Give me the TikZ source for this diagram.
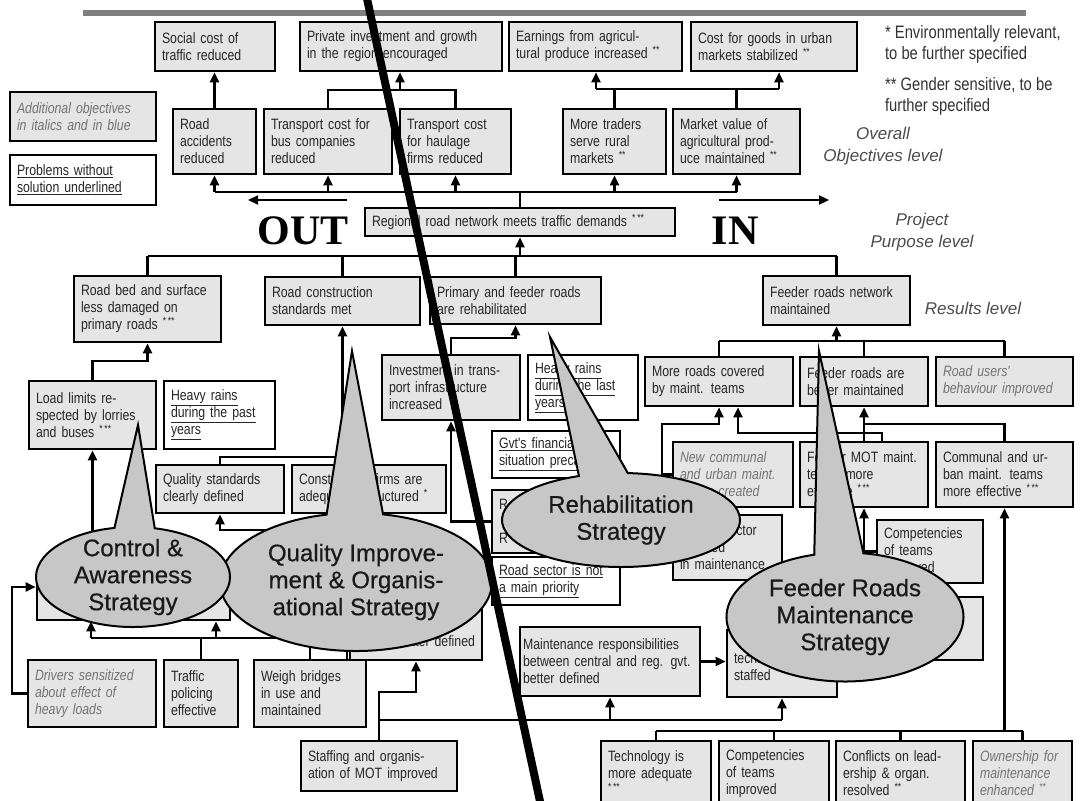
\documentclass[tikz,border=0pt]{standalone}
\usepackage{fontspec}
\setmainfont{Liberation Sans}
\newfontfamily\bxfamily[FakeStretch=0.82]{Liberation Sans}
\newfontfamily\stfamily[FakeBold=0.6]{Liberation Sans}
\newfontfamily\outfamily{Liberation Serif}
\usetikzlibrary{arrows.meta,shapes.callouts}
\newcommand\bxfont{\bxfamily\fontsize{15}{17}\selectfont}
\newcommand\stfont{\stfamily\fontsize{24}{27}\selectfont}
\newcommand\lvfont{\itshape\fontsize{17}{22}\selectfont}
\newcommand\sups[1]{\textsuperscript{#1}}
\tikzset{
  box/.style 2 args={draw, line width=2.6pt, fill=black!10, text=black!85, font=\bxfont,
    align=left, inner xsep=7pt, inner ysep=3pt, text width=#1, minimum height=#2},
  objbox/.style 2 args={box={#1}{#2}, text=black!55, font=\bxfont\itshape},
  probbox/.style 2 args={box={#1}{#2}, fill=white},
  arr/.style={-{Triangle[width=9pt,length=10pt]}},
  strat/.style={ellipse callout, draw, line width=2pt, fill=black!22, text=black!90,
    font=\stfont, align=center, inner sep=-4pt, callout pointer arc=24},
  level/.style={font=\lvfont, align=center, text=black!70},
  key/.style={font=\bxfamily\fontsize{18}{21}\selectfont, align=left, anchor=north west,
    text=black!80, inner sep=0pt},
}
\begin{document}
\begin{tikzpicture}[x=1pt, y=-1pt, line width=2.2pt]
  \useasboundingbox (0,0) rectangle (1083,800);
  \fill[white] (0,0) rectangle (1083,800);
  \fill[black!50] (83,10) rectangle (1026,16);

  \node[box={106pt}{49pt}] (soc) at (215,46.5) {Social cost of\\traffic reduced};
  \node[box={188pt}{49pt}] (priv) at (401,46.5) {Private investment and growth\\in the region encouraged};
  \node[box={159pt}{49pt}] (earn) at (595.5,46.5) {Earnings from agricul-\\tural produce increased \sups{**}};
  \node[box={152pt}{49pt}] (cost) at (774,46.5) {Cost for goods in urban\\markets stabilized \sups{**}};
  \node[box={69pt}{65pt}] (acc) at (214.5,141.5) {Road\\accidents\\reduced};
  \node[box={114pt}{65pt}] (bus) at (328,141.5) {Transport cost for\\bus companies\\reduced};
  \node[box={97pt}{65pt}] (haul) at (455.5,141.5) {Transport cost\\for haulage\\firms reduced};
  \node[box={89pt}{65pt}] (trad) at (614.5,141.5) {More traders\\serve rural\\markets \sups{**}};
  \node[box={113pt}{65pt}] (mval) at (736.5,141.5) {Market value of\\agricultural prod-\\uce maintained \sups{**}};
  \node[objbox={132pt}{49pt}] (addl) at (83,116.5) {Additional objectives\\in italics and in blue};
  \node[probbox={132pt}{50pt}] (prob) at (83,180) {\underline{Problems without}\\\underline{solution underlined}};
  \node[box={296pt}{28pt}] (reg) at (520,222) {Regional road network meets traffic demands \sups{*\,**}};
  \node[box={133pt}{66pt}] (bed) at (147.5,309) {Road bed and surface\\less damaged on\\primary roads \sups{*\,**}};
  \node[box={141pt}{48pt}] (cons) at (342.5,301) {Road construction\\standards met};
  \node[box={157pt}{47pt}] (prim) at (515.5,300.5) {Primary and feeder roads\\are rehabilitated};
  \node[box={133pt}{49pt}] (fnet) at (836.5,300.5) {Feeder roads network\\maintained};
  \node[box={113pt}{68pt}] (load) at (92.5,415) {Load limits re-\\spected by lorries\\and buses \sups{*\,**}};
  \node[probbox={97pt}{68pt}] (rain1) at (219.5,415) {\underline{Heavy rains}\\\underline{during the past}\\\underline{years}};
  \node[box={124pt}{65pt}] (inv) at (451,387.5) {Investment in trans-\\port infrastructure\\increased};
  \node[probbox={96pt}{65pt}] (rain2) at (583,387.5) {\underline{Heavy rains}\\\underline{during the last}\\\underline{years}};
  \node[box={134pt}{49pt}] (more) at (719,381.5) {More roads covered\\by maint. teams};
  \node[box={114pt}{49pt}] (feed) at (864,381.5) {Feeder roads are\\better maintained};
  \node[objbox={123pt}{49pt}] (roadu) at (1004.5,381.5) {Road users'\\behaviour improved};
  \node[probbox={114pt}{47pt}] (gvt) at (556,454.5) {\underline{Gvt's financial}\\\underline{situation precarious}};
  \node[objbox={106pt}{65pt}] (newc) at (733,474.5) {New communal\\and urban maint.\\teams created};
  \node[box={114pt}{65pt}] (mot) at (864,474.5) {Feeder MOT maint.\\teams more\\effective \sups{*\,**}};
  \node[box={123pt}{65pt}] (comm) at (1004.5,474.5) {Communal and ur-\\ban maint. teams\\more effective \sups{*\,**}};
  \node[box={114pt}{48pt}] (qual) at (220,489) {Quality standards\\clearly defined};
  \node[box={140pt}{48pt}] (comp) at (369,489) {Construction firms are\\adequately structured \sups{*}};
  \node[box={112pt}{63pt}] (hid1) at (555,521.5) {R\\\mbox{}\\R};
  \node[probbox={114pt}{48pt}] (roadsec) at (556,581) {\underline{Road sector is not}\\\underline{a main priority}};
  \node[box={95pt}{65pt}] (psec) at (727.5,547.5) {Private sector\\involved\\in maintenance};
  \node[box={92pt}{63pt}] (cmp2) at (930,551.5) {Competencies\\of teams\\improved};
  \node[box={92pt}{63pt}] (hid2) at (930,628.5) {};
  \node[box={179pt}{48pt}] (ctrl) at (133.5,596) {};
  \node[box={118pt}{60pt}, align=right] (defd) at (416,630) {\mbox{}\\\mbox{}\\better defined};
  \node[objbox={114pt}{67pt}] (drv) at (92,693.5) {Drivers sensitized\\about effect of\\heavy loads};
  \node[box={60pt}{67pt}] (traf) at (201,693.5) {Traffic\\policing\\effective};
  \node[box={98pt}{67pt}] (weigh) at (310,693.5) {Weigh bridges\\in use and\\maintained};
  \node[box={142pt}{50pt}] (staff) at (379,766) {Staffing and organis-\\ation of MOT improved};
  \node[box={174pt}{69pt}, inner xsep=3pt] (maint) at (610,661.5) {Maintenance responsibilities\\between central and reg. gvt.\\better defined};
  \node[box={96pt}{67pt}] (stfd) at (782,663.5) {\mbox{}\\technically\\staffed};
  \node[box={96pt}{65pt}] (tech) at (656,773.5) {Technology is\\more adequate\\\sups{*\,**}};
  \node[box={96pt}{65pt}] (compt) at (774,773.5) {Competencies\\of teams\\improved};
  \node[box={115pt}{65pt}] (confl) at (900.5,773.5) {Conflicts on lead-\\ership \& organ.\\resolved \sups{**}};
  \node[objbox={85pt}{65pt}] (owner) at (1022.5,773.5) {Ownership for\\maintenance\\enhanced \sups{**}};

  \draw[arr] (acc.north) -- (acc.north |- soc.south);
  \coordinate (jPriv) at (400,90);
  \draw (bus.north) |- (jPriv) -| (haul.north);
  \draw[arr] (jPriv) -- (jPriv |- priv.south);
  \coordinate (jEarn) at (596,89);
  \coordinate (jCost) at (779,89);
  \draw (jEarn) -- (jCost);
  \draw (trad.north) -- (trad.north |- jEarn);
  \draw (mval.north) -- (mval.north |- jEarn);
  \draw[arr] (jEarn) -- (jEarn |- earn.south);
  \draw[arr] (jCost) -- (jCost |- cost.south);

  \coordinate (jReg) at (520,192);
  \draw (acc.south |- jReg) -- (mval.south |- jReg);
  \draw (jReg) -- (reg.north);
  \foreach \n in {acc,bus,haul,trad,mval}
    \draw[arr] (\n.south |- jReg) -- (\n.south);
  \coordinate (jRes) at (520,256);
  \draw (bed.north |- jRes) -- (fnet.north |- jRes);
  \foreach \n in {bed,cons,prim,fnet}
    \draw (\n.north |- jRes) -- (\n.north);
  \draw[arr] (jRes) -- (reg.south);

  \coordinate (jBed) at (92.5,361);
  \draw[arr] (load.north) -- (jBed) -| (bed.south);
  \coordinate (jCons) at (342.5,457);
  \draw (qual.north) |- (comp.north |- jCons) -- (comp.north);
  \draw[arr] (jCons) -- (cons.south);
  \coordinate (jPrim) at (451,338);
  \draw[arr] (inv.north) -- (jPrim) -| (prim.south);
  \draw[arr] (hid1.west) -| (inv.south);
  \draw[arr] (load.south |- ctrl.north) -- (load.south);

  \coordinate (jDrv) at (12,587);
  \draw[arr] (drv.west) -| (jDrv) -- (jDrv -| ctrl.west);
  \coordinate (jCtrl) at (91,638);
  \coordinate (jCtrlB) at (216,638);
  \coordinate (jQual) at (347,530);
  \draw (jCtrl) -- (jCtrl -| jQual);
  \draw[arr] (jCtrl) -- (jCtrl |- ctrl.south);
  \draw[arr] (jCtrlB) -- (jCtrlB |- ctrl.south);
  \draw (traf.north) -- (traf.north |- jCtrl);
  \draw (weigh.north) -- (weigh.north |- jCtrl);
  \draw[arr] (jQual |- weigh.north) -- (jQual) -| (qual.south);

  \coordinate (jStaff) at (379,720);
  \coordinate (jDefd) at (379,692);
  \draw (staff.north) -- (jStaff) -- (stfd.south |- jStaff);
  \draw[arr] (jStaff) -- (jDefd) -| (defd.south);
  \foreach \n in {maint,stfd}
    \draw[arr] (\n.south |- jStaff) -- (\n.south);
  \draw[arr] (maint.east) -- (maint.east -| stfd.west);

  \coordinate (jBot) at (1004.5,731);
  \draw (tech.north |- jBot) -- (owner.north |- jBot);
  \foreach \n in {tech,compt,confl,owner}
    \draw (\n.north) -- (\n.north |- jBot);
  \draw[arr] (jBot) -- (comm.south);

  \coordinate (jFnet) at (836.5,341);
  \draw (more.north |- jFnet) -- (roadu.north |- jFnet);
  \foreach \n in {more,feed,roadu}
    \draw (\n.north |- jFnet) -- (\n.north);
  \draw[arr] (jFnet) -- (fnet.south);
  \coordinate (jNewc) at (662,424);
  \draw[arr] (newc.west) -| (jNewc) -| (more.south);
  \coordinate (jMot) at (882,433);
  \coordinate (jMore) at (738,433);
  \draw[arr] (jMot |- mot.north) -- (jMot) -- (jMore) -- (jMore |- more.south);
  \coordinate (jFeed) at (864,424);
  \draw (mot.north) -- (jFeed) -| (comm.north);
  \draw[arr] (jFeed) -- (feed.south);
  \draw[arr] (hid2.west) -| (mot.south);
  \draw (cmp2.west) -- (cmp2.west -| mot.south);

  \coordinate (tipCtrl) at (138,425);
  \coordinate (tipQual) at (352,351);
  \coordinate (tipRehab) at (550,337);
  \coordinate (tipFeed) at (819,351);
  \node[strat, minimum width=272pt, minimum height=138pt, callout absolute pointer=(tipQual)]
    (qualS) at (356,582) {Quality Improve-\\ment \& Organis-\\ational Strategy};
  \node[strat, minimum width=194pt, minimum height=100pt, callout absolute pointer=(tipCtrl)]
    (ctrlS) at (133,577) {Control \&\\Awareness\\Strategy};
  \node[strat, minimum width=238pt, minimum height=94pt, callout absolute pointer=(tipRehab)]
    (rehabS) at (621,520) {Rehabilitation\\Strategy};
  \node[strat, minimum width=237pt, minimum height=129pt, callout absolute pointer=(tipFeed)]
    (feedS) at (845,617) {Feeder Roads\\Maintenance\\Strategy};

  \coordinate (cutA) at (366,-6);
  \coordinate (cutB) at (541,806);
  \draw[line width=8pt] (cutA) -- (cutB);

  \node[font=\outfamily\bfseries\fontsize{42}{42}\selectfont] (outlbl) at (303,231) {OUT};
  \node[font=\outfamily\bfseries\fontsize{42}{42}\selectfont] (inlbl) at (735,231) {IN};
  \coordinate (outA) at (347,200);
  \coordinate (outB) at (248,200);
  \coordinate (inA) at (719,200);
  \coordinate (inB) at (829,200);
  \draw[arr] (outA) -- (outB);
  \draw[arr] (inA) -- (inB);

  \node[level] (lvObj) at (883,146) {Overall\\Objectives level};
  \node[level] (lvPur) at (922,232) {Project\\Purpose level};
  \node[level] (lvRes) at (973,308) {Results level};
  \node[key] (key1) at (884,24) {* Environmentally relevant,\\to be further specified};
  \node[key] (key2) at (884,76) {** Gender sensitive, to be\\further specified};
\end{tikzpicture}
\end{document}
